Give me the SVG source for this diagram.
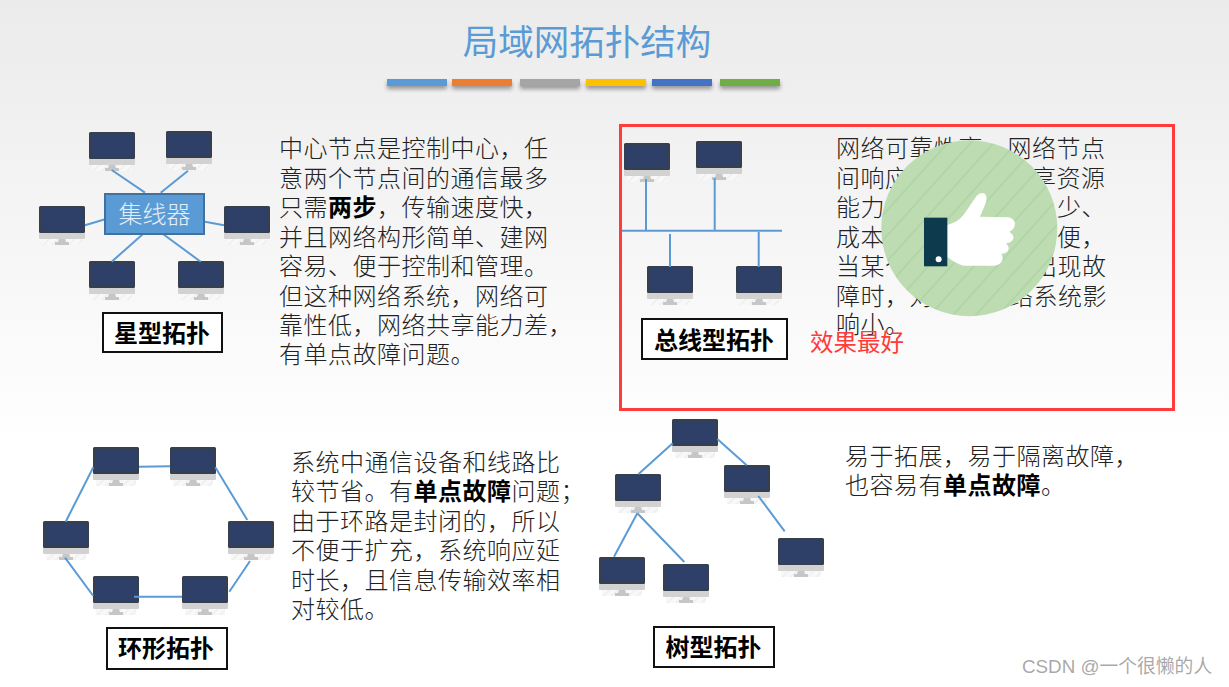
<svg xmlns="http://www.w3.org/2000/svg" width="1229" height="687" viewBox="0 0 1229 687">
<style>
.f{font-family:"Noto Sans CJK SC","Noto Sans",sans-serif}
.body{font-size:24px;letter-spacing:.5px;fill:#222;font-weight:300}
.bold{font-weight:700;fill:#000}
.lab{font-size:24px;font-weight:700;fill:#000;text-anchor:middle}
.box{fill:#fff;stroke:#111;stroke-width:2}
.con{fill:none;stroke:#5b9bd5;stroke-width:2}
</style>
<defs>
<linearGradient id="bg" x1="0" y1="0" x2="0" y2="1"><stop offset="0" stop-color="#ebebeb"/><stop offset=".65" stop-color="#fff"/></linearGradient>
<filter id="sh" x="-10%" y="-50%" width="120%" height="250%"><feGaussianBlur stdDeviation="2"/></filter>
<pattern id="st" width="17" height="17" patternUnits="userSpaceOnUse" patternTransform="rotate(-48)"><rect width="17" height="17" fill="#bddcb2"/><rect width="17" height="2" fill="#b2d5a7"/></pattern>
<pattern id="ht" width="6" height="6" patternUnits="userSpaceOnUse" patternTransform="rotate(-45)"><rect width="6" height="6" fill="#f8f8f8"/><rect width="6" height="1.200" fill="#ececec"/></pattern>
<g id="pc">
<rect x="3" y="33" width="40" height="6" fill="url(#ht)"/>
<rect x="0" y="26" width="46" height="7" rx="1" fill="#d2d2d2"/>
<path d="M20 33h6l1 3h3v3H16v-3h3z" fill="#c6c6c6"/>
<rect x="0" y="0" width="46" height="27" rx="1.500" fill="#373f4c"/>
<rect x="2" y="2" width="42" height="23" fill="#2e4068"/>
</g>
</defs>
<rect width="1229" height="687" fill="url(#bg)"/>
<g id="title">
<text class="f" x="587" y="55" font-size="35.500" fill="#5b9bd5" text-anchor="middle">局域网拓扑结构</text>
<g filter="url(#sh)" fill="#777" opacity=".75"><rect x="387" y="82" width="60" height="7"/><rect x="452" y="82" width="60" height="7"/><rect x="520" y="82" width="60" height="7"/><rect x="586" y="82" width="60" height="7"/><rect x="652" y="82" width="60" height="7"/><rect x="720" y="82" width="60" height="7"/></g>
<rect x="387" y="79" width="60" height="7" fill="#5b9bd5"/><rect x="452" y="79" width="60" height="7" fill="#ed7d31"/><rect x="520" y="79" width="60" height="7" fill="#a5a5a5"/><rect x="586" y="79" width="60" height="7" fill="#ffc000"/><rect x="652" y="79" width="60" height="7" fill="#4472c4"/><rect x="720" y="79" width="60" height="7" fill="#70ad47"/>
</g>
<g id="star-nodes">
<use id="s1" href="#pc" x="89" y="132"/><use id="s2" href="#pc" x="166" y="131"/><use id="s3" href="#pc" x="39" y="206"/><use id="s4" href="#pc" x="224" y="206"/><use id="s5" href="#pc" x="89" y="261"/><use id="s6" href="#pc" x="178" y="261"/>
</g>
<g id="bus-nodes">
<use id="b1" href="#pc" x="624" y="143"/><use id="b2" href="#pc" x="696" y="141"/><use id="b3" href="#pc" x="647" y="266"/><use id="b4" href="#pc" x="736" y="266"/>
</g>
<g id="ring-nodes">
<use id="r1" href="#pc" x="93" y="447"/><use id="r2" href="#pc" x="170" y="447"/><use id="r3" href="#pc" x="43" y="521"/><use id="r4" href="#pc" x="228" y="521"/><use id="r5" href="#pc" x="93" y="576"/><use id="r6" href="#pc" x="182" y="576"/>
</g>
<g id="tree-nodes">
<use id="t1" href="#pc" x="672" y="419"/><use id="t2" href="#pc" x="615" y="474"/><use id="t3" href="#pc" x="724" y="465"/><use id="t4" href="#pc" x="599" y="557"/><use id="t5" href="#pc" x="663" y="564"/><use id="t6" href="#pc" x="778" y="538"/>
</g>
<g id="connectors" class="con">
<path d="M111.700 170L145 192.700M160.700 192.700L188 170.700M85 225.300L105 219.300M205 221.700L224 225.300M142.700 234.300L111.700 261.700M163.300 234.300L200.700 261.700"/>
<path d="M622 230.700H782M646 179V231M714.700 178V231M670 234V267M758.700 232V267"/>
<path d="M139 466.700L170 466.300M215.300 467.300L247.300 520M250 561L229.300 591.700M134 596.700H182M93.300 596L65 557.700M65.700 521.700L93.300 467.300"/>
<path d="M672.700 443.300L638.300 474.300M717.300 439L746.700 465.300M758.300 496L784.700 531.300M637.300 513.300L614 556.700M637.300 513.300L684.300 562"/>
</g>
<g id="hub">
<rect x="105" y="194" width="99" height="40" fill="#5b9bd5" stroke="#41719c" stroke-width="2"/>
<text class="f" x="154.500" y="223" font-size="24" fill="#e4eef8" font-weight="300" text-anchor="middle">集线器</text>
</g>
<g id="label-star"><rect class="box" x="103" y="313" width="119" height="39"/><text class="f lab" x="162" y="342">星型拓扑</text></g>
<g id="label-bus"><rect class="box" x="642" y="319" width="145" height="40"/><text class="f lab" x="714" y="349">总线型拓扑</text></g>
<g id="label-ring"><rect class="box" x="107" y="628" width="120" height="41"/><text class="f lab" x="166" y="657">环形拓扑</text></g>
<g id="label-tree"><rect class="box" x="654" y="627" width="120" height="40"/><text class="f lab" x="713.500" y="656">树型拓扑</text></g>
<g id="text-star" class="f body">
<text x="279" y="157">中心节点是控制中心，任</text>
<text x="279" y="187">意两个节点间的通信最多</text>
<text x="279" y="216">只需<tspan class="bold">两步</tspan>，传输速度快，</text>
<text x="279" y="246">并且网络构形简单、建网</text>
<text x="279" y="275">容易、便于控制和管理。</text>
<text x="279" y="305">但这种网络系统，网络可</text>
<text x="279" y="334">靠性低，网络共享能力差，</text>
<text x="279" y="363">有单点故障问题。</text>
</g>
<g id="text-bus" class="f body">
<text x="836" y="157">网络可靠性高，网络节点</text>
<text x="836" y="187">间响应</text><text x="1032" y="187">享资源</text>
<text x="836" y="216">能力</text><text x="1057" y="216">少、</text>
<text x="836" y="246">成本</text><text x="1057" y="246">便，</text>
<text x="836" y="275">当某个</text><text x="1033" y="275">出现故</text>
<text x="836" y="305">障时，对</text><text x="1009" y="305">络系统影</text>
<text x="836" y="333">响小。</text>
</g>
<g id="text-ring" class="f body">
<text x="291" y="471">系统中通信设备和线路比</text>
<text x="291" y="500">较节省。有<tspan class="bold">单点故障</tspan>问题；</text>
<text x="291" y="530">由于环路是封闭的，所以</text>
<text x="291" y="559">不便于扩充，系统响应延</text>
<text x="291" y="589">时长，且信息传输效率相</text>
<text x="291" y="618">对较低。</text>
</g>
<g id="text-tree" class="f body">
<text x="845" y="465">易于拓展，易于隔离故障，</text>
<text x="845" y="494">也容易有<tspan class="bold">单点故障</tspan>。</text>
</g>
<g id="highlight">
<rect x="620.500" y="125.500" width="553" height="284" fill="none" stroke="#ff3b3b" stroke-width="3"/>
<text class="f" x="810" y="351" font-size="23.500" fill="#ff3b3b">效果最好</text>
</g>
<g id="thumb">
<circle cx="969.300" cy="228.300" r="88" fill="url(#st)"/>
<g transform="translate(830 125) scale(.3333)">
<path d="M352 300Q385 292 402 268L440 212Q455 198 466 208Q474 220 465 240L450 275L535 277Q556 282 555 298Q552 315 538 320Q556 332 548 345Q540 355 528 355Q542 368 532 380Q526 386 514 386Q522 400 514 412Q506 422 490 422L400 422Q375 415 352 395Z" fill="#fff"/>
<rect x="282" y="278" width="70" height="146" fill="#0e3a4e"/>
<circle cx="326" cy="403" r="9" fill="#fff"/>
</g>
</g>
<text id="watermark" x="1022" y="673" font-family="'Liberation Sans','Noto Sans CJK SC',sans-serif" font-size="18.800" fill="#999" fill-opacity=".85">CSDN @一个很懒的人</text>
</svg>
